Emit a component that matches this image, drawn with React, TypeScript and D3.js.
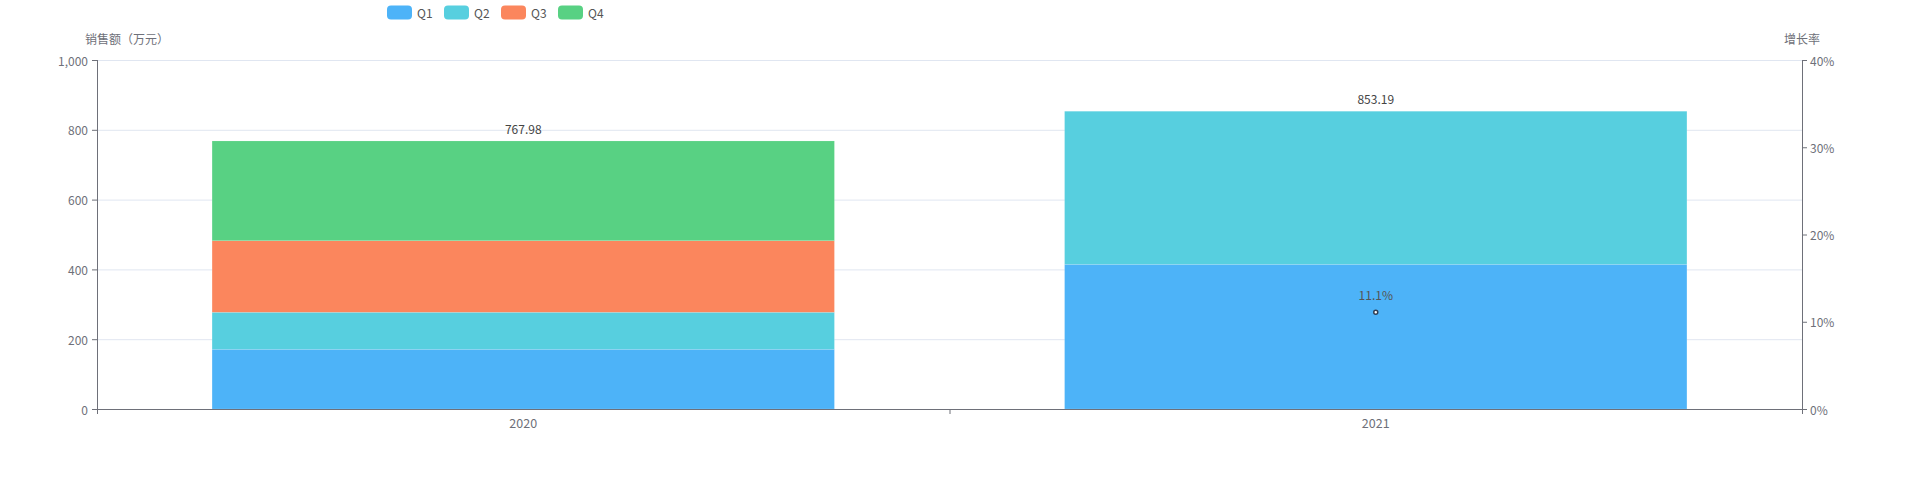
import React from "react";
import * as d3 from "d3";

const years = ["2020", "2021"];
const seriesKeys = ["Q1", "Q2", "Q3", "Q4"];
const q1 = [171.2, 414.6];
const q2 = [106.0, 438.59];
const q3 = [205.0, 0];
const q4 = [285.78, 0];
const totals = [767.98, 853.19];
const growth: (number | null)[] = [null, 0.111];
const leftTicks = [0, 200, 400, 600, 800, 1000];
const rightTicks = [0, 0.1, 0.2, 0.3, 0.4];
const colors = ["#4DB3F8", "#57CFDF", "#FB865D", "#58D183"];

const W = 1911;
const H = 500;
const FONT = "'Noto Sans CJK SC', 'Noto Sans', sans-serif";
const AXIS = "#6E7079";
const GRID = "#E0E6F1";

export default function App() {
  const left = 97;
  const right = 1802;
  const top = 60;
  const bottom = 409;

  const x = d3.scaleBand<string>().domain(years).range([left, right]).padding(0);
  const y = d3.scaleLinear().domain([0, 1000]).range([bottom, top]);
  const y2 = d3.scaleLinear().domain([0, 0.4]).range([bottom, top]);
  const barW = x.bandwidth() * 0.73;

  const rows = years.map((yr, i) => ({
    year: yr,
    Q1: q1[i],
    Q2: q2[i],
    Q3: q3[i],
    Q4: q4[i],
  }));
  const stacked = d3.stack<any>().keys(seriesKeys)(rows);
  const fmt = d3.format(",");
  const pct = d3.format(".0%");

  const growthPts = years
    .map((yr, i) => ({ yr, v: growth[i] }))
    .filter((d) => d.v !== null) as { yr: string; v: number }[];
  const line = d3
    .line<{ yr: string; v: number }>()
    .x((d) => (x(d.yr) as number) + x.bandwidth() / 2)
    .y((d) => y2(d.v));

  const legendX = [387, 444, 501, 558];

  return (
    <div style={{ position: "absolute", left: 0, top: 0 }}>
      <svg width={W} height={H} style={{ display: "block", fontFamily: FONT }}>
        <rect x={0} y={0} width={W} height={H} fill="#fff" />
        {/* legend */}
        {seriesKeys.map((k, i) => (
          <g key={k}>
            <rect x={legendX[i]} y={5.5} width={25} height={14} rx={4} fill={colors[i]} />
            <text x={legendX[i] + 30} y={12.5} dominantBaseline="central" fontSize={12} fill="#555">
              {k}
            </text>
          </g>
        ))}
        {/* axis names */}
        <text x={127} y={38} textAnchor="middle" dominantBaseline="central" fontSize={12} fill={AXIS}>
          销售额（万元）
        </text>
        <text x={1802} y={38} textAnchor="middle" dominantBaseline="central" fontSize={12} fill={AXIS}>
          增长率
        </text>
        {/* grid */}
        {leftTicks.map((t) => (
          <line key={t} x1={left} x2={right} y1={y(t) + 0.5} y2={y(t) + 0.5} stroke={GRID} strokeWidth={1} />
        ))}
        {/* bars */}
        {stacked.map((s, si) => (
          <g key={s.key}>
            {s.map((d, i) => {
              const h = y(d[0]) - y(d[1]);
              if (h <= 0) return null;
              const bx = (x(years[i]) as number) + (x.bandwidth() - barW) / 2;
              return (
                <rect
                  key={i}
                  x={bx}
                  y={y(d[1])}
                  width={barW}
                  height={h}
                  fill={colors[si]}
                  stroke="rgba(255,255,255,0.25)"
                  strokeWidth={0.5}
                />
              );
            })}
          </g>
        ))}
        {/* total labels */}
        {totals.map((t, i) => (
          <text
            key={i}
            x={(x(years[i]) as number) + x.bandwidth() / 2}
            y={y(t) - 12.5}
            textAnchor="middle"
            dominantBaseline="central"
            fontSize={12}
            fill="#444"
          >
            {t.toFixed(2)}
          </text>
        ))}
        {/* left axis */}
        <line x1={left + 0.5} x2={left + 0.5} y1={top} y2={bottom} stroke={AXIS} />
        {leftTicks.map((t) => (
          <g key={t}>
            <line x1={left - 5} x2={left} y1={y(t) + 0.5} y2={y(t) + 0.5} stroke={AXIS} />
            <text x={left - 9} y={y(t)} textAnchor="end" dominantBaseline="central" fontSize={12} fill={AXIS}>
              {fmt(t)}
            </text>
          </g>
        ))}
        {/* right axis */}
        <line x1={right + 0.5} x2={right + 0.5} y1={top} y2={bottom} stroke={AXIS} />
        {rightTicks.map((t) => (
          <g key={t}>
            <line x1={right} x2={right + 5} y1={y2(t) + 0.5} y2={y2(t) + 0.5} stroke={AXIS} />
            <text x={right + 8} y={y2(t)} textAnchor="start" dominantBaseline="central" fontSize={12} fill={AXIS}>
              {pct(t)}
            </text>
          </g>
        ))}
        {/* bottom axis */}
        <line x1={left} x2={right + 1} y1={bottom + 0.5} y2={bottom + 0.5} stroke={AXIS} />
        {[left, ...years.map((yr) => (x(yr) as number) + x.bandwidth())].map((tx, i) => (
          <line key={i} x1={tx + 0.5} x2={tx + 0.5} y1={bottom} y2={bottom + 5} stroke={AXIS} />
        ))}
        {years.map((yr) => (
          <text
            key={yr}
            x={(x(yr) as number) + x.bandwidth() / 2}
            y={422.5}
            textAnchor="middle"
            dominantBaseline="central"
            fontSize={12.5}
            fill={AXIS}
          >
            {yr}
          </text>
        ))}
        {/* growth line */}
        <path d={line(growthPts) || ""} fill="none" stroke="#2F3E55" strokeWidth={2} />
        {growthPts.map((d) => (
          <g key={d.yr}>
            <circle
              cx={(x(d.yr) as number) + x.bandwidth() / 2}
              cy={y2(d.v)}
              r={2}
              fill="#fff"
              stroke="#2F3E55"
              strokeWidth={1.5}
            />
            <text
              x={(x(d.yr) as number) + x.bandwidth() / 2}
              y={y2(d.v) - 18}
              textAnchor="middle"
              dominantBaseline="central"
              fontSize={12}
              fill="#555"
            >
              {(d.v * 100).toFixed(1) + "%"}
            </text>
          </g>
        ))}
      </svg>
    </div>
  );
}
